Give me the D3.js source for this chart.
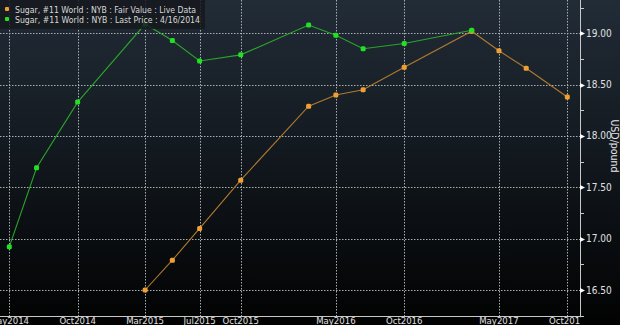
<!DOCTYPE html>
<html><head><meta charset="utf-8">
<script src="https://cdn.jsdelivr.net/npm/d3@7"></script>
<style>
html,body{margin:0;padding:0;background:#000;}
svg{display:block;}
text{font-family:"Liberation Sans Narrow","DejaVu Sans Condensed","Liberation Sans",sans-serif;}
</style></head>
<body>
<svg id="c" width="620" height="325"></svg>
<script>
// ---- data ----
const priceDates = ["2014-05","2014-07","2014-10","2015-03","2015-05","2015-07","2015-10","2016-03","2016-05","2016-07","2016-10","2017-03"];
const priceValues = [16.92,17.69,18.33,19.09,18.93,18.73,18.79,19.08,18.98,18.85,18.90,19.03];
const fairDates = ["2015-03","2015-05","2015-07","2015-10","2016-03","2016-05","2016-07","2016-10","2017-03","2017-05","2017-07","2017-10"];
const fairValues = [16.50,16.79,17.10,17.57,18.29,18.40,18.45,18.67,19.02,18.83,18.66,18.38];
const xTickDates = ["2014-05","2014-10","2015-03","2015-07","2015-10","2016-05","2016-10","2017-05","2017-10"];
const xTickLabels = ["May2014","Oct2014","Mar2015","Jul2015","Oct2015","May2016","Oct2016","May2017","Oct2017"];
const yTicks = [16.5,17.0,17.5,18.0,18.5,19.0];
const yMinorTicks = [16.25,16.75,17.25,17.75,18.25,18.75,19.25];
const legendLabels = ["Sugar, #11 World : NYB : Fair Value : Live Data","Sugar, #11 World : NYB : Last Price : 4/16/2014"];
const yTitle = "USD/pound";

const parse = d3.timeParse("%Y-%m");
const svg = d3.select("#c");
const W = 620, H = 325, axisX = 580, axisY = 316;

// background gradient
const defs = svg.append("defs");
const g = defs.append("linearGradient").attr("id","bg").attr("x1",0).attr("y1",0).attr("x2",0).attr("y2",1);
g.append("stop").attr("offset","0%").attr("stop-color","#222c37");
g.append("stop").attr("offset","50%").attr("stop-color","#11171d");
g.append("stop").attr("offset","100%").attr("stop-color","#020202");
svg.append("rect").attr("width",W).attr("height",H).attr("fill","url(#bg)");
defs.append("clipPath").attr("id","plot").append("rect").attr("x",0).attr("y",0).attr("width",axisX).attr("height",axisY);
defs.append("clipPath").attr("id","xlab").append("rect").attr("x",0).attr("y",axisY).attr("width",axisX+1).attr("height",H-axisY);

const x = d3.scaleTime().domain([parse("2014-05"), parse("2017-10")]).range([9.3, 567.3]);
const y = d3.scaleLinear().domain([16.5, 19.0]).range([290, 33.3]);

const plot = svg.append("g").attr("clip-path","url(#plot)");

// grid
plot.selectAll(".hg").data(yTicks).join("line")
  .attr("x1",0).attr("x2",axisX).attr("y1",d=>Math.round(y(d))+0.5).attr("y2",d=>Math.round(y(d))+0.5)
  .attr("stroke","#a9aeb3").attr("stroke-width",1).attr("stroke-dasharray","1.5,1.5");
plot.selectAll(".vg").data(xTickDates).join("line")
  .attr("x1",d=>Math.round(x(parse(d)))+0.5).attr("x2",d=>Math.round(x(parse(d)))+0.5).attr("y1",0).attr("y2",axisY)
  .attr("stroke","#a9aeb3").attr("stroke-width",1).attr("stroke-dasharray","1.5,1.5");

// lines
const line = d3.line().x(d=>x(d[0])).y(d=>y(d[1]));
const fair = fairDates.map((d,i)=>[parse(d), fairValues[i]]);
const price = priceDates.map((d,i)=>[parse(d), priceValues[i]]);
plot.append("path").datum(fair).attr("d",line).attr("fill","none").attr("stroke","#b07a30").attr("stroke-width",1.1);
plot.append("path").datum(price).attr("d",line).attr("fill","none").attr("stroke","#2aa52a").attr("stroke-width",1.1);
plot.selectAll(".fp").data(fair).join("rect")
  .attr("x",d=>x(d[0])-2.5).attr("y",d=>y(d[1])-2.5).attr("width",5).attr("height",5).attr("rx",1.5)
  .attr("fill","#f0a030");
plot.selectAll(".pp").data(price).join("rect")
  .attr("x",d=>x(d[0])-2.5).attr("y",d=>y(d[1])-2.5).attr("width",5).attr("height",5).attr("rx",1.5)
  .attr("fill","#22e022");

// axes lines
svg.append("line").attr("x1",axisX+0.5).attr("x2",axisX+0.5).attr("y1",0).attr("y2",axisY+0.5).attr("stroke","#c8c8c8").attr("stroke-width",1);
svg.append("line").attr("x1",0).attr("x2",axisX+0.5).attr("y1",axisY+0.5).attr("y2",axisY+0.5).attr("stroke","#c8c8c8").attr("stroke-width",1);

// y ticks
svg.selectAll(".ymin").data(yMinorTicks).join("line")
  .attr("x1",axisX).attr("x2",axisX+4).attr("y1",d=>Math.round(y(d))+0.5).attr("y2",d=>Math.round(y(d))+0.5)
  .attr("stroke","#c8c8c8");
svg.selectAll(".ytri").data(yTicks).join("path")
  .attr("d",d=>{const yy=Math.round(y(d))+0.5; return `M${axisX},${yy-2.5}L${axisX+5},${yy}L${axisX},${yy+2.5}Z`;})
  .attr("fill","#ffffff");
svg.selectAll(".ylab").data(yTicks).join("text")
  .attr("x",axisX+6).attr("y",d=>y(d)+3.5).attr("fill","#e0e0e0").attr("font-size",10)
  .text(d=>d3.format(".2f")(d));

// x labels
svg.append("g").attr("clip-path","url(#xlab)").selectAll("text").data(xTickDates).join("text")
  .attr("x",d=>x(parse(d))).attr("y",324).attr("text-anchor","middle").attr("fill","#e0e0e0").attr("font-size",9.5)
  .text((d,i)=>xTickLabels[i]);

// y title
svg.append("text").attr("transform","translate(611,146) rotate(90)").attr("text-anchor","middle")
  .attr("fill","#e6e6e6").attr("font-size",10.5).text(yTitle);

// legend
svg.append("rect").attr("x",0).attr("y",0).attr("width",205).attr("height",29).attr("fill","#15191d").attr("opacity",0.85);
const legColors = ["#f0a030","#22e022"];
const legLens = [181,185];
legendLabels.forEach((t,i)=>{
  svg.append("rect").attr("x",5).attr("y",7+i*10).attr("width",4).attr("height",4).attr("rx",1).attr("fill",legColors[i]);
  svg.append("text").attr("x",15).attr("y",13+i*10).attr("fill","#d8d8d8").attr("font-size",9)
    .attr("textLength",legLens[i]).attr("lengthAdjust","spacingAndGlyphs")
    .style("font-family","'DejaVu Sans Condensed','Liberation Sans Narrow',sans-serif").text(t);
});
</script>
</body></html>
